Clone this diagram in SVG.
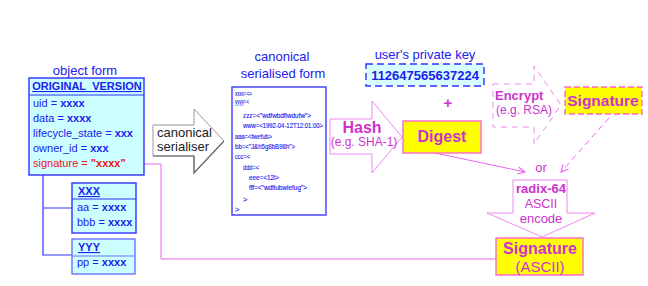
<svg xmlns="http://www.w3.org/2000/svg" width="648" height="286" viewBox="0 0 648 286">
  <defs>
    <style>
      text { font-family: "Liberation Sans", Arial, sans-serif; }
      .blue { fill: #2020ee; }
      .lbl { font-size: 13px; }
      .row { font-size: 11px; fill: #2020ee; }
      .b { font-weight: bold; }
      .hdr { font-size: 11px; font-weight: bold; fill: #2020ee; text-decoration: underline; }
      .obj { fill: #ccffff; stroke: #3030ff; stroke-width: 1.4; }
      .code { font-size: 7.5px; fill: #1a1aee; stroke: #1a1aee; stroke-width: 0.15; }
      .mag { fill: #cc33cc; }
      .pinkline { fill: none; stroke: #ee66ee; stroke-width: 1; }
      .ybox { fill: #ffff00; stroke: #ff66cc; stroke-width: 1.4; }
    </style>
    <marker id="openArrow" viewBox="0 0 10 10" refX="9" refY="5" markerWidth="9" markerHeight="9" markerUnits="userSpaceOnUse" orient="auto">
      <path d="M1,1 L9,5 L1,9" fill="none" stroke="#ee66ee" stroke-width="1.2"/>
    </marker>
  </defs>

  <rect width="648" height="286" fill="#ffffff"/>

  <!-- connectors -->
  <g id="connectors">
    <!-- tree links from the object form to the sub-objects -->
    <path d="M43,175 V255 H72 M43,208 H72" fill="none" stroke="#3030ff" stroke-width="1.2"/>
    <!-- ASCII signature written back into the signature field -->
    <path class="pinkline" d="M496,259 H161 V164 H133" marker-end="url(#openArrow)"/>
    <!-- digest to the encoder -->
    <path class="pinkline" d="M435,153 L525,172" marker-end="url(#openArrow)"/>
    <!-- encrypted signature to the encoder -->
    <path class="pinkline" d="M609,118 L561,172" stroke-dasharray="6,4" marker-end="url(#openArrow)"/>
  </g>

  <!-- object form -->
  <g id="object-form">
    <text class="lbl blue" x="85" y="75" text-anchor="middle">object form</text>
    <rect class="obj" x="29" y="78" width="115" height="97"/>
    <line x1="29" y1="95" x2="144" y2="95" stroke="#3030ff" stroke-width="1.2"/>
    <text class="hdr" x="87" y="90" text-anchor="middle">ORIGINAL_VERSION</text>
    <text class="row" x="33" y="107">uid = <tspan class="b">xxxx</tspan></text>
    <text class="row" x="33" y="122">data = <tspan class="b">xxxx</tspan></text>
    <text class="row" x="33" y="137">lifecycle_state = <tspan class="b">xxx</tspan></text>
    <text class="row" x="33" y="152">owner_id = <tspan class="b">xxx</tspan></text>
    <text class="row" x="33" y="167" style="fill:#ee1111">signature = <tspan class="b">"xxxx"</tspan></text>
  </g>

  <g id="object-xxx">
    <rect class="obj" x="72" y="183" width="64" height="50"/>
    <line x1="72" y1="199" x2="136" y2="199" stroke="#3030ff" stroke-width="1.2"/>
    <text class="hdr" x="78" y="195">XXX</text>
    <text class="row" x="77" y="211">aa = <tspan class="b">xxxx</tspan></text>
    <text class="row" x="77" y="226">bbb = <tspan class="b">xxxx</tspan></text>
  </g>

  <g id="object-yyy">
    <rect class="obj" x="72" y="239" width="63" height="35" style="stroke:#7070ff"/>
    <line x1="72" y1="256" x2="135" y2="256" stroke="#7070ff" stroke-width="1.2"/>
    <text class="hdr" x="78" y="251">YYY</text>
    <text class="row" x="77" y="266">pp = <tspan class="b">xxxx</tspan></text>
  </g>

  <!-- canonical serialiser block arrow -->
  <g id="serialiser">
    <path d="M153,125 H194 V109 L224,141 L194,173 V156 H153 Z" fill="#ffffff" stroke="#999999" stroke-width="1"/>
    <path d="M153,156 H194 V173 L224,141" fill="none" stroke="#666666" stroke-width="1.2"/>
    <text class="lbl" x="157" y="137" fill="#222222">canonical</text>
    <text class="lbl" x="157" y="151" fill="#222222">serialiser</text>
  </g>

  <!-- canonical serialised form -->
  <g id="serialised-form">
    <text class="lbl blue" x="282" y="61" text-anchor="middle">canonical</text>
    <text class="lbl blue" x="283" y="78" text-anchor="middle">serialised form</text>
    <rect x="232" y="87" width="94" height="128" fill="#ffffff" stroke="#3a3aff" stroke-width="1.4"/>
    <text class="code" x="235" y="95.5" textLength="17" lengthAdjust="spacingAndGlyphs">xxxx=&lt;&gt;</text>
    <text class="code" x="235" y="104" textLength="14" lengthAdjust="spacingAndGlyphs">yyyy=&lt;</text>
    <text class="code" x="243" y="117.5" textLength="68" lengthAdjust="spacingAndGlyphs">zzz=&lt;"wdfwbdfiwdufw"&gt;</text>
    <text class="code" x="243" y="128" textLength="80" lengthAdjust="spacingAndGlyphs">www=&lt;1992-04-12T12:01:00&gt;</text>
    <text class="code" x="235" y="139" textLength="37" lengthAdjust="spacingAndGlyphs">aaa=&lt;fwefub&gt;</text>
    <text class="code" x="235" y="148.5" textLength="60" lengthAdjust="spacingAndGlyphs">bb=&lt;"J&amp;h5g8bB98h"&gt;</text>
    <text class="code" x="235" y="158.5" textLength="15" lengthAdjust="spacingAndGlyphs">ccc=&lt;</text>
    <text class="code" x="243" y="169.5" textLength="16" lengthAdjust="spacingAndGlyphs">ddd=&lt;</text>
    <text class="code" x="249" y="179.5" textLength="30" lengthAdjust="spacingAndGlyphs">eee=&lt;12i&gt;</text>
    <text class="code" x="249" y="190" textLength="58" lengthAdjust="spacingAndGlyphs">fff=&lt;"wdfiubwiefug"&gt;</text>
    <text class="code" x="243" y="201.5">&gt;</text>
    <text class="code" x="235" y="212">&gt;</text>
  </g>

  <!-- private key -->
  <g id="private-key">
    <text class="lbl blue" x="425" y="59" text-anchor="middle">user's private key</text>
    <rect x="366" y="64" width="118" height="22" fill="#d8ffff" stroke="#3030ff" stroke-width="1.4" stroke-dasharray="7,4"/>
    <text x="425" y="80" text-anchor="middle" class="blue b" font-size="13">112647565637224</text>
    <text x="448" y="108" text-anchor="middle" class="mag b" font-size="15">+</text>
  </g>

  <!-- hash block arrow -->
  <g id="hash">
    <path d="M330,119 H372 V101 L402,137 L372,173 V154 H330 Z" fill="#ffffff" stroke="#ee88ee" stroke-width="1"/>
    <text x="362" y="133" text-anchor="middle" class="mag b" font-size="16">Hash</text>
    <text x="364" y="146" text-anchor="middle" class="mag" font-size="12">(e.g. SHA-1)</text>
  </g>

  <g id="digest">
    <rect class="ybox" x="403" y="121" width="78" height="32"/>
    <text x="442" y="142" text-anchor="middle" class="mag b" font-size="16">Digest</text>
  </g>

  <!-- encrypt block arrow (dashed) -->
  <g id="encrypt">
    <path d="M493,84 H534 V66 L561,105 L534,144 V127 H493 Z" fill="#ffffff" stroke="#ee88ee" stroke-width="1" stroke-dasharray="6,5"/>
    <text x="495" y="100" class="mag b" font-size="13">Encrypt</text>
    <text x="496" y="114" class="mag" font-size="12">(e.g. RSA)</text>
  </g>

  <g id="signature">
    <rect x="565" y="87" width="77" height="27" fill="#ffff00" stroke="#ff66cc" stroke-width="1.4" stroke-dasharray="6,3"/>
    <text x="603" y="106" text-anchor="middle" class="mag b" font-size="15.5">Signature</text>
  </g>

  <g id="or">
    <text x="541" y="172" text-anchor="middle" class="mag" font-size="13">or</text>
  </g>

  <!-- radix-64 encoding block arrow -->
  <g id="radix64">
    <path d="M513,180 H567 V213 H595 L542,237 L487,213 H513 Z" fill="#ffffff" stroke="#ee88ee" stroke-width="1"/>
    <text x="541" y="193" text-anchor="middle" class="mag b" font-size="13">radix-64</text>
    <text x="541" y="208" text-anchor="middle" class="mag" font-size="12.5">ASCII</text>
    <text x="541" y="223" text-anchor="middle" class="mag" font-size="13">encode</text>
  </g>

  <g id="signature-ascii">
    <rect class="ybox" x="496" y="238" width="87" height="37"/>
    <text x="540" y="254" text-anchor="middle" class="mag b" font-size="16">Signature</text>
    <text x="540" y="272" text-anchor="middle" class="mag" font-size="15">(ASCII)</text>
  </g>
</svg>
